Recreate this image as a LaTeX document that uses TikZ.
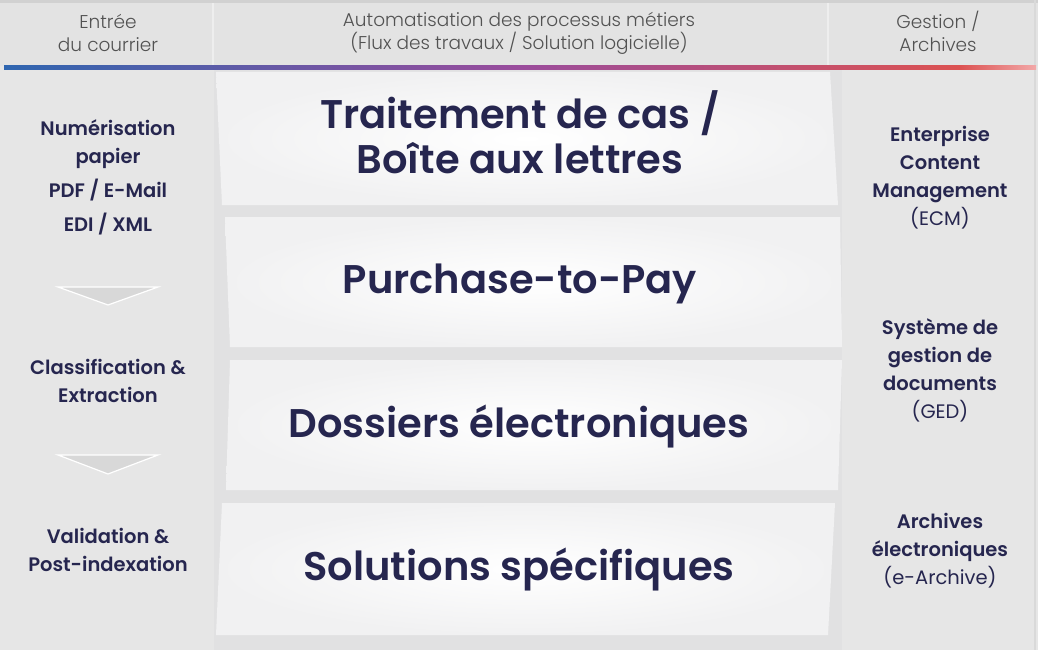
\documentclass[tikz,border=0pt]{standalone}
\usepackage{fontspec}
\setmainfont{Poppins}[BoldFont={Poppins SemiBold}]
\newfontfamily\lightfont{Poppins Light}
\usepackage{xcolor}
\usepackage{tikz}
\usetikzlibrary{positioning}

\definecolor{navy}{HTML}{26264F}
\definecolor{headgray}{HTML}{E3E3E3}
\definecolor{colgray}{HTML}{E6E6E6}
\definecolor{sepgray}{HTML}{E1E1E2}
\definecolor{panelgray}{HTML}{F1F1F2}
\definecolor{arrowgray}{HTML}{D8D8D8}
\definecolor{lineblue}{HTML}{2F66B0}
\definecolor{linepurple}{HTML}{9A4C9C}
\definecolor{linered}{HTML}{DC5252}
\definecolor{linepink}{HTML}{F2A8A8}

\begin{document}
\begin{tikzpicture}[x=1pt, y=-1pt,
    headtext/.style={font=\lightfont\fontsize{18.5}{23}\selectfont, text=black!68, align=center, inner sep=0},
    sidetext/.style={font=\bfseries\fontsize{19.5}{28}\selectfont, text=navy, align=center, inner sep=0},
    maintext/.style={font=\bfseries\fontsize{40}{45}\selectfont, text=navy, align=center, inner sep=0},
    stepdown/.style={fill=arrowgray, draw=white, line width=1.2pt}]
    \useasboundingbox (0,0) rectangle (1038,650);

    % background, header and columns
    \fill[colgray] (0,0) rectangle (1038,650);
    \fill[headgray] (0,0) rectangle (1038,66);
    \fill[black!18] (0,0) rectangle (1038,3);
    \draw[white!40!headgray, line width=1.5pt] (213,3) -- (213,66);
    \draw[white!40!headgray, line width=1.5pt] (828,3) -- (828,66);
    \draw[black!15, line width=2pt] (1035,0) -- (1035,650);

    % coloured rule under the header
    \shade[left color=lineblue, right color=linepurple] (4,66) rectangle (520,70);
    \shade[left color=linepurple, right color=linered] (520,66) rectangle (960,70);
    \shade[left color=linered, right color=linepink] (960,66) rectangle (1036,70);

    % middle column with the four panels
    \fill[sepgray] (214,70) rectangle (842,650);
    \shade[inner color=white, outer color=panelgray] (216,72) -- (830,72) -- (838,205) -- (222,205) -- cycle;
    \shade[inner color=white, outer color=panelgray] (225,217) -- (840,217) -- (842,347) -- (230,347) -- cycle;
    \shade[inner color=white, outer color=panelgray] (230,360) -- (842,360) -- (838,490) -- (226,490) -- cycle;
    \shade[inner color=white, outer color=panelgray] (222,503) -- (835,503) -- (828,635) -- (216,635) -- cycle;

    % arrows in the left column
    \filldraw[stepdown] (58,287) -- (158,287) -- (108,305) -- cycle;
    \filldraw[stepdown] (58,455) -- (158,455) -- (108,474) -- cycle;

    % header labels
    \node[headtext] (hin) at (108,33) {Entrée\\du courrier};
    \node[headtext] (hflow) at (519,33) {Automatisation des processus métiers\\(Flux des travaux / Solution logicielle)};
    \node[headtext] (harch) at (938,31) {Gestion /\\Archives};

    % left column
    \node[sidetext] (scan) at (108,177) {Numérisation\\papier\\[6pt]PDF / E-Mail\\[6pt]EDI / XML};
    \node[sidetext] (classify) at (108,381) {Classification \&\\Extraction};
    \node[sidetext] (validate) at (108,550) {Validation \&\\Post-indexation};

    % middle panels
    \node[maintext] (cases) at (520,132) {Traitement de cas /\\Boîte aux lettres};
    \node[maintext] (ptp) at (520,284) {Purchase-to-Pay};
    \node[maintext] (files) at (519,426) {Dossiers électroniques};
    \node[maintext] (special) at (519,569) {Solutions spécifiques};

    % right column
    \node[sidetext] (ecm) at (940,178) {Enterprise\\Content\\Management\\{\mdseries (ECM)}};
    \node[sidetext] (ged) at (940,370) {Système de\\gestion de\\documents\\{\mdseries (GED)}};
    \node[sidetext] (earch) at (940,551) {Archives\\électroniques\\{\mdseries (e-Archive)}};
\end{tikzpicture}
\end{document}
